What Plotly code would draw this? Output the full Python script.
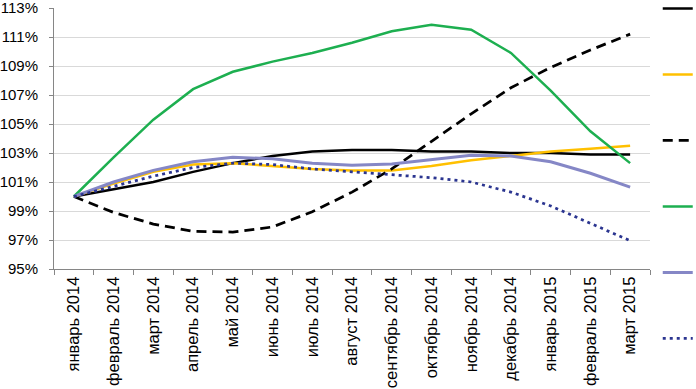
import plotly.graph_objects as go

months = ["январь 2014", "февраль 2014", "март 2014", "апрель 2014", "май 2014",
          "июнь 2014", "июль 2014", "август 2014", "сентябрь 2014", "октябрь 2014",
          "ноябрь 2014", "декабрь 2014", "январь 2015", "февраль 2015", "март 2015"]

s_black = [100.0, 100.5, 101.0, 101.7, 102.3, 102.8, 103.1, 103.2, 103.2, 103.1, 103.1, 103.0, 103.0, 102.9, 102.9]
s_yellow = [100.0, 100.9, 101.7, 102.2, 102.3, 102.1, 101.9, 101.8, 101.8, 102.1, 102.5, 102.8, 103.1, 103.3, 103.5]
s_dashed = [100.0, 98.9, 98.1, 97.6, 97.55, 97.9, 98.95, 100.3, 101.9, 103.8, 105.7, 107.5, 108.9, 110.1, 111.2]
s_green = [100.0, 102.7, 105.3, 107.4, 108.6, 109.3, 109.9, 110.6, 111.4, 111.85, 111.5, 109.9, 107.3, 104.5, 102.3]
s_purple = [100.0, 101.0, 101.8, 102.4, 102.7, 102.6, 102.3, 102.15, 102.25, 102.55, 102.85, 102.8, 102.4, 101.6, 100.65]
s_dotted = [100.0, 100.7, 101.4, 102.0, 102.3, 102.2, 101.9, 101.7, 101.5, 101.3, 101.0, 100.3, 99.35, 98.15, 96.95]

y_ticks = [95, 97, 99, 101, 103, 105, 107, 109, 111, 113]

series = [
    (s_black, "#000000", "solid", 2.5),
    (s_yellow, "#FFC000", "solid", 2.5),
    (s_dashed, "#000000", "10px,6px", 2.75),
    (s_green, "#1DAF50", "solid", 2.5),
    (s_purple, "#8587C6", "solid", 3),
    (s_dotted, "#2B3590", "3px,4px", 2.75),
]

fig = go.Figure()
for i, (vals, color, dash, w) in enumerate(series):
    fig.add_trace(go.Scatter(
        x=months, y=vals, mode="lines", name=" ",
        legendgroup=f"g{i}",
        line=dict(color=color, dash=dash, width=w),
    ))

fig.update_layout(
    width=696, height=389,
    margin=dict(l=54, r=46, t=8, b=120, autoexpand=False),
    plot_bgcolor="white", paper_bgcolor="white",
    font=dict(family="Liberation Sans", size=15, color="#000000"),
    showlegend=True,
    legend=dict(x=1.013, y=1.054, xanchor="left", yanchor="top",
                yref="paper",
                tracegroupgap=47, font=dict(size=6),
                maxheight=420,
                itemwidth=30, bgcolor="rgba(0,0,0,0)"),
    xaxis=dict(
        type="category", tickangle=-90, showgrid=False, automargin=False,
        showline=True, linecolor="#868686", linewidth=1,
        ticks="outside", ticklen=5, tickcolor="#868686", tickson="boundaries",
        range=[-0.5, 14.5], tickfont=dict(size=16.5),
    ),
    yaxis=dict(
        range=[95, 113], tickvals=y_ticks, automargin=False,
        ticktext=[f"{v}%" for v in y_ticks], ticklabeloverflow="allow",
        showgrid=True, gridcolor="#D9D9D9", gridwidth=1,
        showline=True, linecolor="#868686", linewidth=1,
        zeroline=False, ticks="outside", ticklen=4, tickcolor="#868686",
        ticklabelstandoff=8, tickfont=dict(size=15),
    ),
)

fig.write_html("out.html", config={"displayModeBar": False},
               post_script="document.body.style.margin='0';")
